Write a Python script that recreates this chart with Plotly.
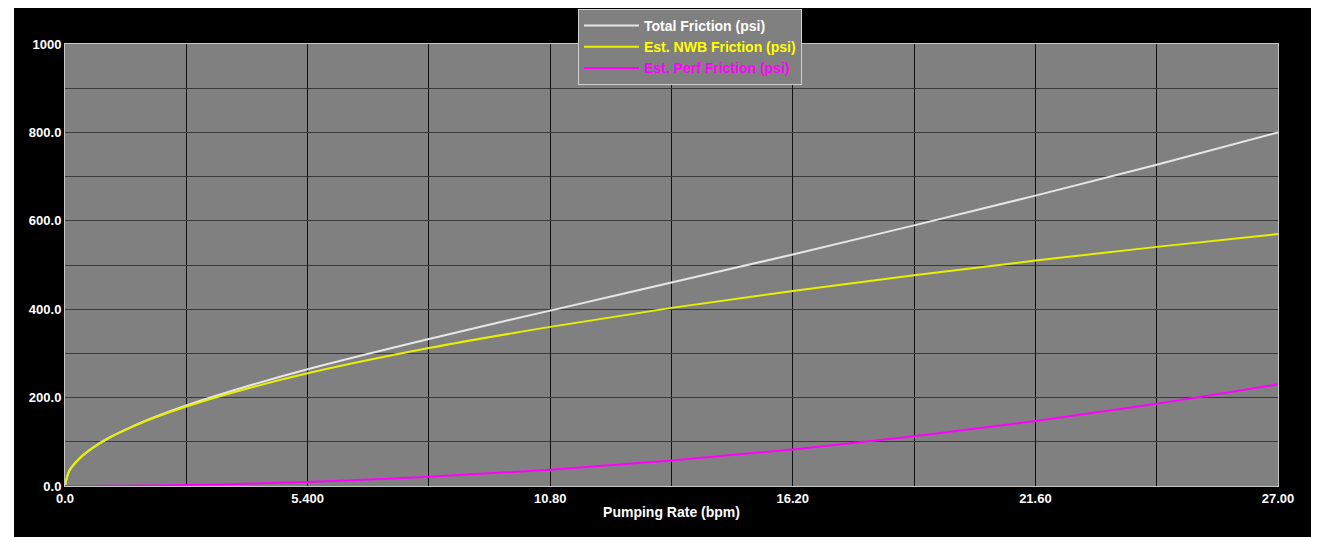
import plotly.graph_objects as go

rate = [0, 0.1, 0.3, 0.6, 1.0, 1.5, 2.0, 2.7, 4.0, 5.4, 8.1, 10.8, 13.5, 16.2, 18.9, 21.6, 24.3, 27.0]
nwb = [0, 35, 60, 85, 110, 134, 155, 180, 219, 255, 312, 360, 403, 441, 477, 510, 541, 570]
perf = [0, 0, 0, 0.1, 0.3, 0.7, 1.3, 2.3, 5, 9.2, 20.7, 36.8, 57.5, 82.8, 112.7, 147, 186, 230]
total = [0, 35, 60, 85.1, 110.3, 134.7, 156.3, 182.3, 224, 264.2, 332.7, 396.8, 460.5, 523.8, 589.7, 657, 727, 800]

x_ticks = [0, 5.4, 10.8, 16.2, 21.6, 27.0]
x_ticklabels = ["0.0", "5.400", "10.80", "16.20", "21.60", "27.00"]
y_ticks = [0, 200, 400, 600, 800, 1000]
y_ticklabels = ["0.0", "200.0", "400.0", "600.0", "800.0", "1000"]

fig = go.Figure()
fig.add_trace(go.Scatter(x=rate, y=total, mode="lines", line=dict(color="#e6e6e6", width=2, shape="spline"),
                         name="<b><span style='color:#ffffff'>Total Friction (psi)</span></b>"))
fig.add_trace(go.Scatter(x=rate, y=nwb, mode="lines", line=dict(color="#e8f000", width=2, shape="spline"),
                         name="<b><span style='color:#ffff00'>Est. NWB Friction (psi)</span></b>"))
fig.add_trace(go.Scatter(x=rate, y=perf, mode="lines", line=dict(color="#ff00ff", width=2, shape="spline"),
                         name="<b><span style='color:#ff00ff'>Est. Perf Friction (psi)</span></b>"))

W, H = 1311, 529
L, R, T, B = 57, 41, 36, 51
pw = W - L - R

fig.update_layout(
    width=W, height=H,
    margin=dict(l=L, r=R, t=T, b=B, autoexpand=False),
    paper_bgcolor="black",
    plot_bgcolor="#808080",
    font=dict(family="Liberation Sans, Arial", color="white", size=13),
    showlegend=True,
    legend=dict(x=(570 - L) / pw, y=1 - 1 / H, xref="paper", yref="container",
                xanchor="left", yanchor="top",
                bgcolor="#808080", bordercolor="#d0d0d0", borderwidth=1,
                font=dict(size=14, family="Liberation Sans, Arial"),
                tracegroupgap=0, itemwidth=55),
    xaxis=dict(range=[0, 27], tickvals=x_ticks, ticktext=["<b>%s</b>" % t for t in x_ticklabels],
               showgrid=True, gridcolor="#111111", gridwidth=1,
               minor=dict(dtick=2.7, tick0=0, showgrid=True, gridcolor="#111111", gridwidth=1),
               zeroline=False, showline=True, linecolor="#c8c8c8", linewidth=1, mirror=True,
               ticks="", tickfont=dict(size=13, color="white"),
               title=dict(text="<b>Pumping Rate (bpm)</b>", font=dict(size=14, color="white"), standoff=2)),
    yaxis=dict(range=[0, 1000], tickvals=y_ticks, ticktext=["<b>%s</b>" % t for t in y_ticklabels],
               showgrid=True, gridcolor="#3a3a3a", gridwidth=1,
               minor=dict(dtick=100, tick0=0, showgrid=True, gridcolor="#3a3a3a", gridwidth=1),
               zeroline=False, showline=True, linecolor="#c8c8c8", linewidth=1, mirror=True,
               ticks="", tickfont=dict(size=13, color="white")),
    shapes=[
        dict(type="rect", xref="paper", yref="paper",
             x0=(0 - L) / pw, x1=(6 - L) / pw, y0=-0.2, y1=1.2,
             fillcolor="white", line=dict(width=0), layer="below"),
        dict(type="rect", xref="paper", yref="paper",
             x0=(1305 - L) / pw, x1=(W - L) / pw, y0=-0.2, y1=1.2,
             fillcolor="white", line=dict(width=0), layer="below"),
    ],
)

fig.write_html("out.html")
